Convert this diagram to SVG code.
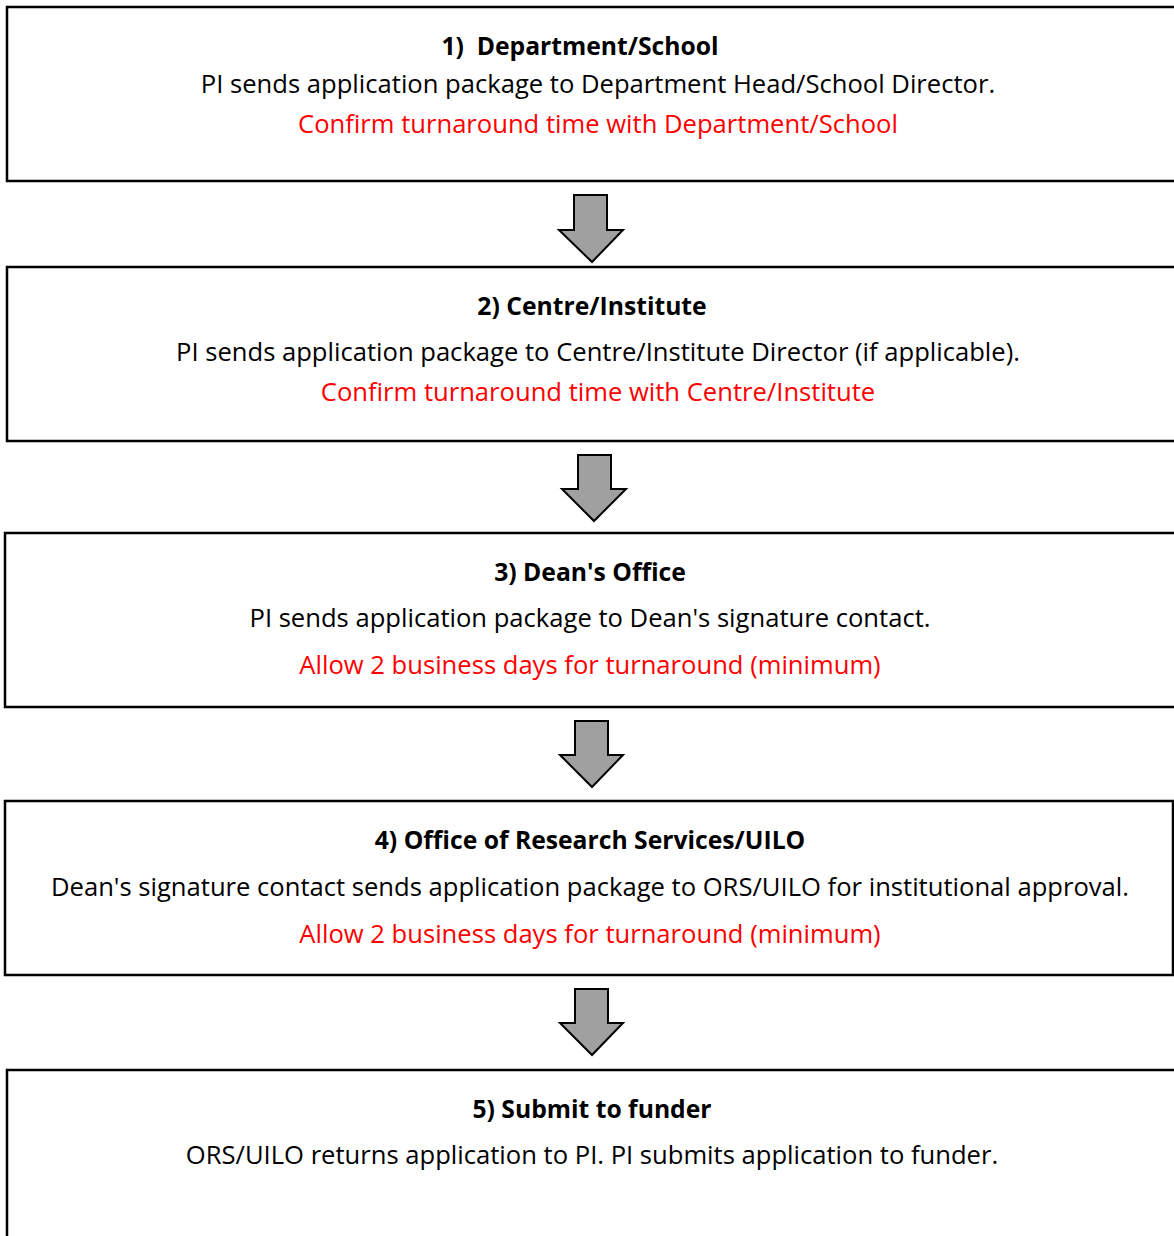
<svg xmlns="http://www.w3.org/2000/svg" width="1174" height="1236" viewBox="0 0 1174 1236">
<style>
.box{fill:#fff;stroke:#000;stroke-width:2.5}
.arr{fill:#a0a0a0;stroke:#000;stroke-width:2;stroke-linejoin:miter}
text{font-family:"Open Sans","Noto Sans",sans-serif;font-size:25.6px;text-anchor:middle;fill:#000;white-space:pre}
.t{font-weight:bold;font-size:24.7px}
.r{fill:#ff0000}
</style>
<rect width="1174" height="1236" fill="#fff"/>
<g id="connectors">
<path class="arr" d="M574,195 H607 V230 H623 L592,262 L559,230 H574 Z"/>
<path class="arr" d="M578,455 H611 V489 H626 L594,521 L562,489 H578 Z"/>
<path class="arr" d="M575,721 H608 V755 H623 L592,787 L560,755 H575 Z"/>
<path class="arr" d="M575,989 H608 V1023 H623 L592,1055 L560,1023 H575 Z"/>
</g>
<g id="node1">
<rect class="box" x="7" y="7" width="1180" height="174"/>
<text class="t" x="580" y="55" xml:space="preserve">1)  Department/School</text>
<text x="598" y="93">PI sends application package to Department Head/School Director.</text>
<text class="r" x="598" y="133">Confirm turnaround time with Department/School</text>
</g>
<g id="node2">
<rect class="box" x="7" y="267" width="1180" height="174"/>
<text class="t" x="592" y="315">2) Centre/Institute</text>
<text x="598" y="361">PI sends application package to Centre/Institute Director (if applicable).</text>
<text class="r" x="598" y="401">Confirm turnaround time with Centre/Institute</text>
</g>
<g id="node3">
<rect class="box" x="5" y="533" width="1180" height="174"/>
<text class="t" x="590" y="581">3) Dean's Office</text>
<text x="590" y="627">PI sends application package to Dean's signature contact.</text>
<text class="r" x="590" y="674">Allow 2 business days for turnaround (minimum)</text>
</g>
<g id="node4">
<rect class="box" x="5" y="801" width="1168" height="174"/>
<text class="t" x="590" y="849">4) Office of Research Services/UILO</text>
<text x="590" y="896">Dean's signature contact sends application package to ORS/UILO for institutional approval.</text>
<text class="r" x="590" y="943">Allow 2 business days for turnaround (minimum)</text>
</g>
<g id="node5">
<rect class="box" x="7" y="1070" width="1180" height="200"/>
<text class="t" x="592" y="1118">5) Submit to funder</text>
<text x="592" y="1164">ORS/UILO returns application to PI. PI submits application to funder.</text>
</g>
</svg>
